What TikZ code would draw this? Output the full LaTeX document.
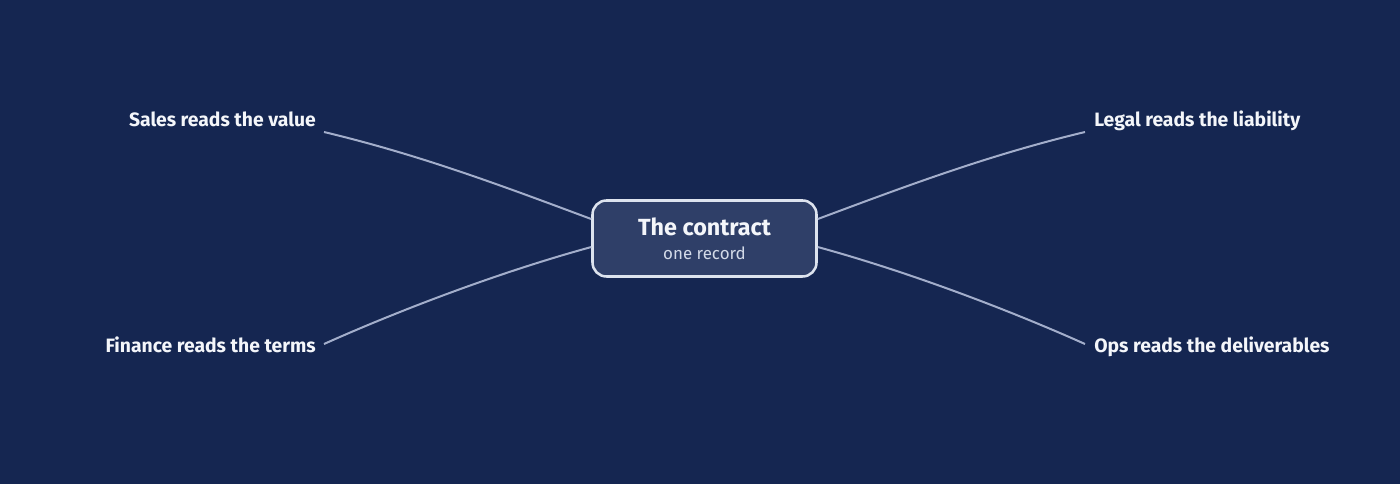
\documentclass[tikz,border=0pt]{standalone}
\usepackage{fontspec}
\setmainfont{Fira Sans}

\definecolor{Navy}{HTML}{152651}
\definecolor{BoxFill}{HTML}{2F3F68}
\definecolor{BoxEdge}{HTML}{DDE3EE}
\definecolor{LinkGrey}{HTML}{A3AECB}
\definecolor{Ink}{HTML}{F4F6FA}
\definecolor{SubInk}{HTML}{D3DAE8}

\tikzstyle{Hub} = [draw=BoxEdge,
                   fill=BoxFill,
                   rounded corners=10.5pt,
                   line width=1.9pt,
                   minimum width=168pt,
                   minimum height=57pt,
                   align=center,
                   text=Ink]
\tikzstyle{Reader} = [text=Ink,
                      inner sep=0pt,
                      font=\bfseries\fontsize{14.5}{17}\selectfont]
\tikzstyle{Link} = [draw=LinkGrey, line width=1.5pt]

\begin{document}
\begin{tikzpicture}[x=0.75pt, y=-0.75pt]

    \fill[Navy] (0,0) rectangle (1400,484);

    % Centre node
    \node (contract) at (704.5,238.5) [Hub] {{\bfseries\fontsize{17.5}{20}\selectfont The contract}\\[6pt]{\fontsize{12.7}{15}\selectfont\color{SubInk}one record}};

    % Reader nodes
    \node (sales) at (316,127) [Reader, anchor=base east]{Sales reads the value};
    \node (finance) at (316,353) [Reader, anchor=base east]{Finance reads the terms};
    \node (legal) at (1094,127) [Reader, anchor=base west]{Legal reads the liability};
    \node (ops) at (1094,353) [Reader, anchor=base west]{Ops reads the deliverables};

    % Line ends beside the labels
    \coordinate (salesEnd) at (324,132);
    \coordinate (financeEnd) at (324,344);
    \coordinate (legalEnd) at (1085,132);
    \coordinate (opsEnd) at (1085,344);

    % Lines
    \draw [Link] (salesEnd) .. controls (420,155) and (500,185) .. ([yshift=14.6pt]contract.west);
    \draw [Link] (financeEnd) .. controls (400,310) and (500,272) .. ([yshift=-6.4pt]contract.west);

    \draw [Link] ([yshift=14.6pt]contract.east) .. controls (909,185) and (989,155) .. (legalEnd);
    \draw [Link] ([yshift=-6.4pt]contract.east) .. controls (909,272) and (1009,310) .. (opsEnd);

\end{tikzpicture}
\end{document}
